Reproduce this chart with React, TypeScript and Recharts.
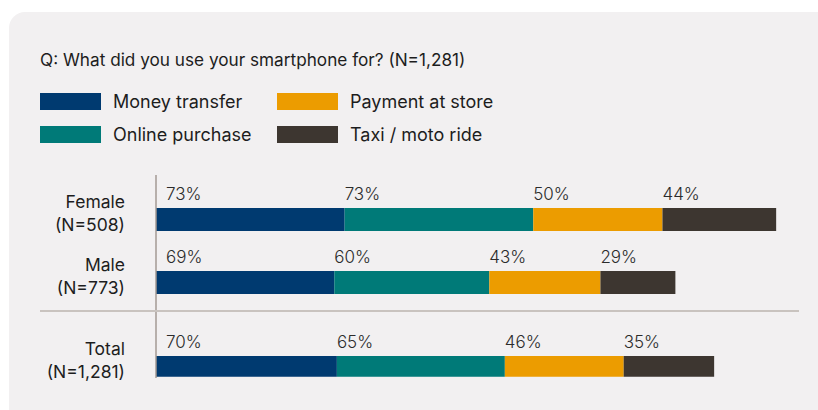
import React from 'react';
import { BarChart, Bar, XAxis, YAxis, LabelList } from 'recharts';

const title = 'Q: What did you use your smartphone for? (N=1,281)';

const seriesNames = ['Money transfer', 'Online purchase', 'Payment at store', 'Taxi / moto ride'];
const seriesKeys = ['money', 'online', 'store', 'taxi'];
const seriesColors = ['#003a70', '#007a78', '#ec9c00', '#3d3630'];

// group rows (top block) and total row (bottom block)
const groupCategories = ['Female', 'Male'];
const groupCounts = ['(N=508)', '(N=773)'];
const moneyTransfer = [73, 69];
const onlinePurchase = [73, 60];
const paymentAtStore = [50, 43];
const taxiRide = [44, 29];

const totalCategories = ['Total'];
const totalCounts = ['(N=1,281)'];
const totalMoney = [70];
const totalOnline = [65];
const totalStore = [46];
const totalTaxi = [35];

const FONT = 'Inter, "Noto Sans", sans-serif';

const groupData = groupCategories.map((name, i) => ({
    name,
    count: groupCounts[i],
    money: moneyTransfer[i],
    online: onlinePurchase[i],
    store: paymentAtStore[i],
    taxi: taxiRide[i],
}));

const totalData = totalCategories.map((name, i) => ({
    name,
    count: totalCounts[i],
    money: totalMoney[i],
    online: totalOnline[i],
    store: totalStore[i],
    taxi: totalTaxi[i],
}));

// two-line category label: name on top, sample size below
const makeTick = (rows: { name: string; count: string }[]) => (props: any) => {
    const { x, y, payload } = props;
    const row = rows.find((r) => r.name === payload.value);
    return (
        <g>
            <text x={x} y={y - 11.5} textAnchor="end" fontSize={17.5} fill="#1d1d1d" fontFamily={FONT}>
                {payload.value}
            </text>
            <text x={x} y={y + 11.5} textAnchor="end" fontSize={17.5} fill="#1d1d1d" fontFamily={FONT}>
                {row ? row.count : ''}
            </text>
        </g>
    );
};

// value label sits above the start of each segment
const makeLabel = (offset: number) => (props: any) => {
    const { x, y, value } = props;
    return (
        <text x={x + offset} y={y - 8} fontSize={17} fill="#2b2b2b" fontWeight={300} fontFamily={FONT}>
            {`${value}%`}
        </text>
    );
};

const StackChart = ({ data, height, padTop, bottom }: { data: any[]; height: number; padTop: number; bottom: number }) => (
    <BarChart
        width={818}
        height={height}
        data={data}
        layout="vertical"
        margin={{ top: 0, right: 16, bottom, left: 0 }}
        barSize={23}
    >
        <XAxis type="number" domain={[0, 250]} hide />
        <YAxis
            type="category"
            dataKey="name"
            width={156}
            padding={{ top: padTop, bottom: 0 }}
            axisLine={{ stroke: '#a39a93', strokeWidth: 1.5 }}
            tickLine={false}
            tickSize={0}
            tickMargin={31}
            tick={makeTick(data)}
        />
        {seriesKeys.map((key, i) => (
            <Bar key={key} dataKey={key} stackId="a" fill={seriesColors[i]} isAnimationActive={false}>
                <LabelList dataKey={key} content={makeLabel(i === 0 ? 10 : 0)} />
            </Bar>
        ))}
    </BarChart>
);

export default function App() {
    return (
        <div style={{ position: 'absolute', left: 0, top: 0, width: 818, height: 410, background: '#ffffff', overflow: 'hidden', fontFamily: FONT }}>
            <div style={{ position: 'absolute', left: 9, top: 12, width: 840, height: 430, background: '#f2f0f1', borderRadius: 16 }} />
            <div style={{ position: 'absolute', left: 40, top: 49, fontSize: 17.2, color: '#1d1d1d', whiteSpace: 'nowrap' }}>
                {title}
            </div>
            <div
                style={{
                    position: 'absolute',
                    left: 40,
                    top: 93,
                    display: 'grid',
                    gridTemplateColumns: '237px auto',
                    gridTemplateRows: '32.5px 32.5px',
                    gridAutoFlow: 'column',
                }}
            >
                {seriesNames.map((name, i) => (
                    <div key={name} style={{ display: 'flex', alignItems: 'flex-start', height: 17 }}>
                        <div style={{ width: 61, height: 17, background: seriesColors[i], flex: 'none' }} />
                        <div style={{ marginLeft: 12, fontSize: 18, lineHeight: '17px', color: '#1d1d1d', whiteSpace: 'nowrap' }}>
                            {name}
                        </div>
                    </div>
                ))}
            </div>
            <div style={{ position: 'absolute', left: 0, top: 175 }}>
                <StackChart data={groupData} height={139} padTop={13} bottom={0} />
            </div>
            <div style={{ position: 'absolute', left: 40, top: 310, width: 759, height: 2, background: '#c9c3bf' }} />
            <div style={{ position: 'absolute', left: 0, top: 314 }}>
                <StackChart data={totalData} height={96} padTop={41} bottom={32} />
            </div>
        </div>
    );
}
